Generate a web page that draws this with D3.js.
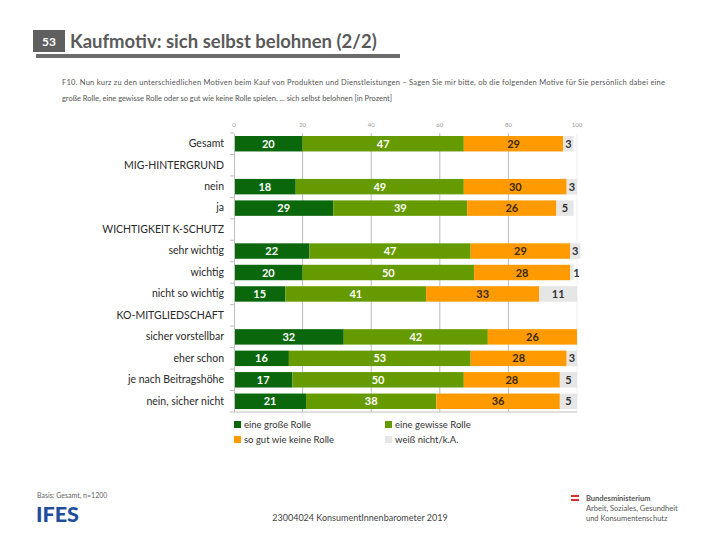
<!DOCTYPE html>
<meta charset="utf-8">
<script src="https://d3js.org/d3.v7.min.js"></script>
<style>
  body { margin: 0; background: #fff; }
  svg text { font-family: Lato, "Open Sans", sans-serif; }
</style>
<div id="chart"></div>
<script>

// categories (rows), headers have no values
var categories = ["Gesamt", "MIG-HINTERGRUND", "nein", "ja", "WICHTIGKEIT K-SCHUTZ",
  "sehr wichtig", "wichtig", "nicht so wichtig", "KO-MITGLIEDSCHAFT",
  "sicher vorstellbar", "eher schon", "je nach Beitragshöhe", "nein, sicher nicht"]

var grosse   = [20, null, 18, 29, null, 22, 20, 15, null, 32, 16, 17, 21]
var gewisse  = [47, null, 49, 39, null, 47, 50, 41, null, 42, 53, 50, 38]
var keine    = [29, null, 30, 26, null, 29, 28, 33, null, 26, 28, 28, 36]
var weissNicht = [3, null, 3, 5, null, 3, 1, 11, null, 0, 3, 5, 5]

var seriesNames = ["eine große Rolle", "eine gewisse Rolle", "so gut wie keine Rolle", "weiß nicht/k.A."]
var colors = ["#0b670b", "#669b00", "#ff9a00", "#e6e6e6"]
var labelColors = ["#ffffff", "#ffffff", "#3a2a10", "#333333"]
var ticks = [0, 20, 40, 60, 80, 100]

var width = 720, height = 540
var svg = d3.select("#chart").append("svg").attr("width", width).attr("height", height)

// header block
svg.append("rect").attr("x", 33).attr("y", 30).attr("width", 32).attr("height", 22).attr("fill", "#5f5f5f")
svg.append("text").attr("x", 49).attr("y", 46).attr("text-anchor", "middle")
  .style("font-size", "12px").style("font-weight", "bold").style("fill", "#fff").text("53")
svg.append("text").attr("x", 70).attr("y", 48)
  .style("font-size", "18.5px").style("font-weight", "bold").style("fill", "#5a5a5a")
  .text("Kaufmotiv: sich selbst belohnen (2/2)")
svg.append("rect").attr("x", 36).attr("y", 54).attr("width", 364).attr("height", 4).attr("fill", "#6b6b6b")

svg.append("text").attr("x", 62).attr("y", 85).style("font-size", "7.5px").style("fill", "#555")
  .attr("textLength", 603)
  .text("F10. Nun kurz zu den unterschiedlichen Motiven beim Kauf von Produkten und Dienstleistungen – Sagen Sie mir bitte, ob die folgenden Motive für Sie persönlich dabei eine")
svg.append("text").attr("x", 62).attr("y", 101).style("font-size", "7.5px").style("fill", "#555")
  .attr("textLength", 330)
  .text("große Rolle, eine gewisse Rolle oder so gut wie keine Rolle spielen. ... sich selbst belohnen [in Prozent]")

// scales
var x = d3.scaleLinear().domain([0, 100]).range([234, 577])
var y = d3.scaleBand().domain(categories).range([133, 412]).paddingInner(0.28).paddingOuter(0.14)

// gridlines
svg.append("g").selectAll("line").data(ticks.slice(1)).enter().append("line")
  .attr("x1", d => x(d)).attr("x2", d => x(d)).attr("y1", 133).attr("y2", 412)
  .attr("stroke", d => d === 100 ? "#eeeeee" : "#bdbdbd").attr("stroke-width", 1)

// top tick labels
svg.append("g").selectAll("text").data(ticks).enter().append("text")
  .attr("x", d => x(d)).attr("y", 127).attr("text-anchor", "middle")
  .style("font-size", "6px").style("fill", "#999").text(d => d)

// stacked data
var rows = categories.map(function (c, i) {
  return { cat: c, vals: [grosse[i], gewisse[i], keine[i], weissNicht[i]] }
}).filter(d => d.vals[0] !== null)

var segs = []
rows.forEach(function (r) {
  var acc = 0
  r.vals.forEach(function (v, k) {
    segs.push({ cat: r.cat, k: k, v: v, x0: acc, x1: acc + v })
    acc += v
  })
})

svg.append("g").selectAll("rect").data(segs.filter(d => d.v > 0)).enter().append("rect")
  .attr("x", d => x(d.x0)).attr("y", d => y(d.cat))
  .attr("width", d => x(d.x1) - x(d.x0)).attr("height", y.bandwidth())
  .attr("fill", d => colors[d.k])

svg.append("g").selectAll("text").data(segs.filter(d => d.v > 0)).enter().append("text")
  .attr("x", d => d.k === 3 && d.v < 3 ? x(d.x0) + 3 : (x(d.x0) + x(d.x1)) / 2)
  .attr("y", d => y(d.cat) + y.bandwidth() / 2 + 4)
  .attr("text-anchor", d => d.k === 3 && d.v < 3 ? "start" : "middle")
  .style("font-size", "11px").style("font-weight", "bold")
  .style("fill", d => labelColors[d.k]).text(d => d.v)

// left axis with category labels
var yAxis = d3.axisLeft(y).tickSize(0).tickPadding(10)
var ga = svg.append("g").attr("transform", "translate(234,0)").call(yAxis)
ga.select(".domain").attr("stroke", "#bfbfbf")
ga.selectAll("text").style("font-size", "10.5px").style("fill", "#2a2a2a")
  .style("font-family", "Lato, 'Open Sans', sans-serif")

// separator ticks between rows
svg.append("g").selectAll("line").data(d3.range(categories.length + 1)).enter().append("line")
  .attr("x1", 230).attr("x2", 234)
  .attr("y1", d => 133 + d * y.step()).attr("y2", d => 133 + d * y.step())
  .attr("stroke", "#bfbfbf")
svg.append("line").attr("x1", 234).attr("x2", 577).attr("y1", 412).attr("y2", 412).attr("stroke", "#bfbfbf")

// legend
var legendPos = [[234, 428], [385, 428], [234, 443], [385, 443]]
var lg = svg.append("g").selectAll("g").data(seriesNames).enter().append("g")
  .attr("transform", (d, i) => "translate(" + legendPos[i][0] + "," + legendPos[i][1] + ")")
lg.append("rect").attr("x", 0).attr("y", -7).attr("width", 7).attr("height", 7).attr("fill", (d, i) => colors[i])
lg.append("text").attr("x", 10).attr("y", 0).style("font-size", "9.5px").style("fill", "#333").text(d => d)

// footer
svg.append("text").attr("x", 37).attr("y", 498).style("font-size", "7px").style("fill", "#666").text("Basis: Gesamt, n=1200")
svg.append("text").attr("x", 36).attr("y", 522).style("font-size", "21px").style("font-weight", "900")
  .style("fill", "#1f4f9a").attr("textLength", 43).attr("lengthAdjust", "spacingAndGlyphs").text("IFES")
svg.append("text").attr("x", 360).attr("y", 521).attr("text-anchor", "middle")
  .style("font-size", "9px").style("fill", "#444").text("23004024 KonsumentInnenbarometer 2019")
svg.append("rect").attr("x", 571).attr("y", 495).attr("width", 8).attr("height", 2).attr("fill", "#d9322b")
svg.append("rect").attr("x", 571).attr("y", 497).attr("width", 8).attr("height", 2).attr("fill", "#ffffff")
svg.append("rect").attr("x", 571).attr("y", 499).attr("width", 8).attr("height", 2).attr("fill", "#d9322b")
var bm = ["Bundesministerium", "Arbeit, Soziales, Gesundheit", "und Konsumentenschutz"]
svg.append("g").selectAll("text").data(bm).enter().append("text")
  .attr("x", 586).attr("y", (d, i) => 501 + i * 10)
  .style("font-size", "7.5px").style("font-weight", (d, i) => i === 0 ? "bold" : "normal")
  .style("fill", "#555").text(d => d)

</script>
